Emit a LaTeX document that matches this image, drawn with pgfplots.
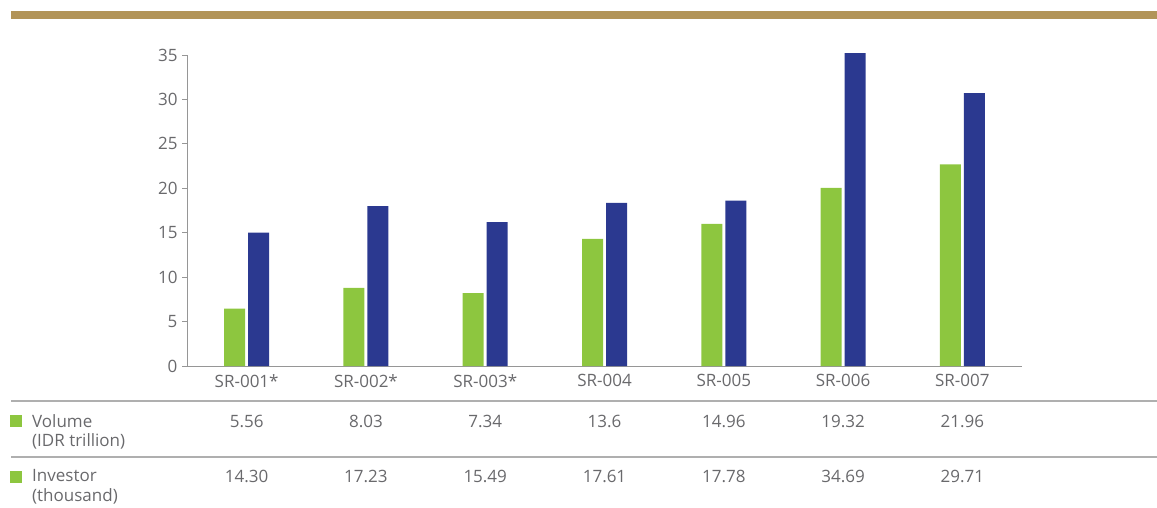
\documentclass[border=0pt]{standalone}
\usepackage{pgfplots}
\pgfplotsset{compat=1.18}
\usepackage{fontspec}
\setmainfont{Open Sans}
\definecolor{bargreen}{RGB}{141,198,63}
\definecolor{barnavy}{RGB}{43,57,144}
\definecolor{gold}{RGB}{178,148,88}
\definecolor{txtgray}{RGB}{105,105,108}
\definecolor{axgray}{RGB}{150,150,150}
\definecolor{linegray}{RGB}{175,175,175}
\begin{document}
\begin{tikzpicture}[x=1pt,y=1pt, tablenode/.style={font=\fontsize{17}{19}\selectfont, text=txtgray}]
\useasboundingbox (0,0) rectangle (1157,507);
\fill[gold] (11,488) rectangle (1157,496);
\begin{axis}[
  at={(187pt,141pt)}, anchor=south west,
  scale only axis, width=835pt, height=311pt,
  xmin=-0.5, xmax=6.5, ymin=0, ymax=35,
  axis lines=left, axis line style={draw=axgray, line width=1pt, -},
  clip=false,
  ybar, bar width=21pt,
  xtick={0,...,6},
  xticklabels={SR-001*,SR-002*,SR-003*,SR-004,SR-005,SR-006,SR-007},
  x tick style={draw=none},
  extra x ticks={-0.5,0.5,1.5,2.5,3.5,4.5,5.5,6.5},
  extra x tick labels={},
  extra x tick style={tick style={draw=axgray, line width=1pt}},
  ytick={0,5,...,35},
  y tick style={draw=axgray, line width=1pt},
  tick align=outside, major tick length=5pt,
  ticklabel style={font=\fontsize{17}{19}\selectfont, text=txtgray},
  /pgf/number format/assume math mode=true,
  xticklabel style={yshift=0pt},
  yticklabel style={xshift=-1pt},
]
\addplot[fill=bargreen, draw=none, bar shift=-12pt] coordinates {
 (0,6.45) (1,8.8) (2,8.2) (3,14.3) (4,16.0) (5,20.05) (6,22.7)};
\addplot[fill=barnavy, draw=none, bar shift=12pt] coordinates {
 (0,15.0) (1,18.0) (2,16.2) (3,18.35) (4,18.6) (5,35.2) (6,30.7)};
\node[tablenode] at (axis cs:0,-6.19) {5.56};
\node[tablenode] at (axis cs:1,-6.19) {8.03};
\node[tablenode] at (axis cs:2,-6.19) {7.34};
\node[tablenode] at (axis cs:3,-6.19) {13.6};
\node[tablenode] at (axis cs:4,-6.19) {14.96};
\node[tablenode] at (axis cs:5,-6.19) {19.32};
\node[tablenode] at (axis cs:6,-6.19) {21.96};
\node[tablenode] at (axis cs:0,-12.38) {14.30};
\node[tablenode] at (axis cs:1,-12.38) {17.23};
\node[tablenode] at (axis cs:2,-12.38) {15.49};
\node[tablenode] at (axis cs:3,-12.38) {17.61};
\node[tablenode] at (axis cs:4,-12.38) {17.78};
\node[tablenode] at (axis cs:5,-12.38) {34.69};
\node[tablenode] at (axis cs:6,-12.38) {29.71};
\end{axis}
\draw[linegray, line width=1.2pt] (11,106) -- (1157,106);
\draw[linegray, line width=1.2pt] (11,50) -- (1157,50);
\fill[bargreen] (10,80) rectangle (22,92);
\fill[bargreen] (10,24) rectangle (22,36);
\begin{scope}[every node/.style={anchor=west, inner sep=0pt, font=\fontsize{17}{19}\selectfont, text=txtgray}]
\node at (32,86) {Volume};
\node at (32,66) {(IDR trillion)};
\node at (32,31) {Investor};
\node at (32,11) {(thousand)};
\end{scope}
\end{tikzpicture}
\end{document}
